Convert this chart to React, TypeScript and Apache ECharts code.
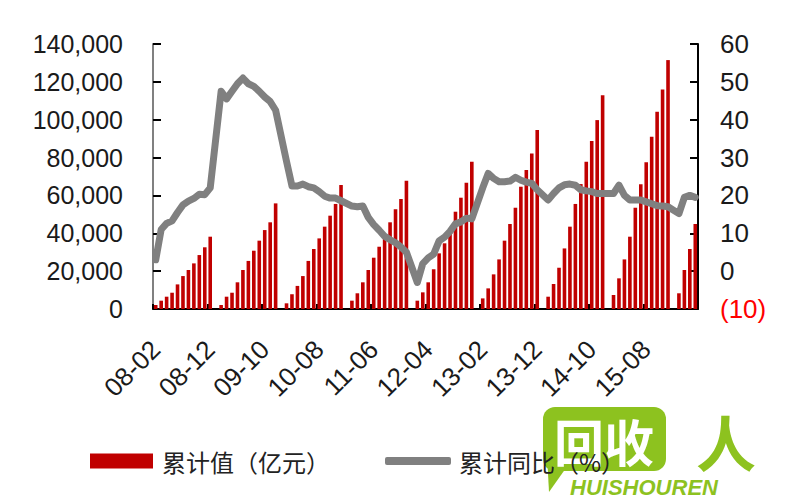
import React, { useEffect, useRef } from "react";
import * as echarts from "echarts";

// Month labels: 08-02 ... 16-05 (January kept as a category with no value)
const YEARS = ["08", "09", "10", "11", "12", "13", "14", "15", "16"];
const MONTHS = ["01", "02", "03", "04", "05", "06", "07", "08", "09", "10", "11", "12"];
const categories = YEARS.flatMap((y) => MONTHS.map((m) => `${y}-${m}`)).slice(1, 101);

// 累计值（亿元）, Feb..Dec of each year
const value2008 = [2100, 4400, 6500, 8600, 13000, 17400, 20600, 24100, 28500, 32600, 38200];
const value2009 = [2100, 6500, 8600, 14100, 20600, 25400, 30800, 36100, 41700, 45800, 55800];
const value2010 = [3000, 7800, 12200, 17400, 25400, 31700, 37300, 43500, 49300, 55500, 65500];
const value2011 = [4400, 8300, 14100, 20600, 27100, 32900, 37300, 45800, 52700, 58100, 67800];
const value2012 = [4400, 8800, 14100, 21000, 29400, 34700, 40800, 51400, 58800, 66700, 77800];
const value2013 = [5600, 10900, 18300, 26200, 36100, 44900, 53500, 64600, 73400, 82200, 94600];
const value2014 = [6500, 13200, 21800, 32000, 43500, 55500, 66000, 77800, 88800, 99800, 112900];
const value2015 = [7400, 16200, 26200, 38200, 53500, 65900, 77500, 91000, 104200, 116000, 131500];
const value2016 = [8300, 20600, 31700, 44900];

// 累计同比（%）, Feb..Dec of each year
const yoy2008 = [3, 11, 12.6, 13.3, 15.5, 17.5, 18.5, 19.2, 20.3, 20.2, 22];
const yoy2009 = [47.5, 45.5, 47.5, 49.5, 51, 49.5, 48.8, 47.5, 46, 44.8, 42.5];
const yoy2010 = [29, 22.5, 22.5, 23, 22.3, 22, 21, 19.8, 19.3, 19.3, 18.6];
const yoy2011 = [17.2, 17, 17.2, 14.2, 12.3, 10.8, 9.2, 8.3, 7.5, 6.4, 5];
const yoy2012 = [-3, 2, 3.5, 4.5, 8, 9, 10.5, 12.5, 13, 14, 13.8];
const yoy2013 = [22, 25.8, 24.5, 23.6, 23.6, 23.8, 24.8, 24, 23.5, 23.2, 21.5];
const yoy2014 = [18.8, 20.5, 22, 22.8, 23, 22.7, 21.5, 21.2, 21, 20.5, 20.5];
const yoy2015 = [20.5, 22.7, 20, 18.8, 18.8, 18.8, 18.3, 17.8, 17.3, 17.2, 17];
const yoy2016 = [15.2, 19.5, 20, 19.5];

const leftTicks = { min: 0, max: 140000, interval: 20000 };
const rightTicks = { min: -10, max: 60, interval: 10 };

const BAR_NAME = "累计值（亿元）";
const LINE_NAME = "累计同比（%）";

function joinYears(parts: number[][]): (number | null)[] {
  const out: (number | null)[] = [];
  parts.forEach((arr, i) => {
    if (i > 0) out.push(null); // January
    out.push(...arr);
  });
  return out;
}

const barData = joinYears([value2008, value2009, value2010, value2011, value2012, value2013, value2014, value2015, value2016]);
const lineData = joinYears([yoy2008, yoy2009, yoy2010, yoy2011, yoy2012, yoy2013, yoy2014, yoy2015, yoy2016]);

const NUM_FONT = "'Liberation Sans', Arial, sans-serif";
const CJK_FONT = "'Noto Sans CJK SC', sans-serif";
const GREEN = "#8DC21F";
const GREY = "#808080";

export default function App() {
  const ref = useRef<HTMLDivElement>(null);
  useEffect(() => {
    if (!ref.current) return;
    const chart = echarts.init(ref.current, null, { renderer: "svg" });
    chart.setOption({
      animation: false,
      backgroundColor: "#ffffff",
      grid: { left: 153, right: 102, top: 44, bottom: 191, containLabel: false },
      legend: [
        {
          left: 90,
          top: 449,
          padding: 0,
          itemWidth: 63,
          itemHeight: 15,
          data: [{ name: BAR_NAME, icon: "rect" }],
          textStyle: { fontSize: 24, fontFamily: CJK_FONT, color: "#222", padding: [0, 0, 0, 4] },
        },
        {
          left: 385,
          top: 449,
          padding: 0,
          itemWidth: 66,
          itemHeight: 8,
          data: [{ name: LINE_NAME, icon: "roundRect", itemStyle: { color: GREY } }],
          textStyle: { fontSize: 24, fontFamily: CJK_FONT, color: "#222", padding: [0, 0, 0, 3] },
        },
      ],
      xAxis: {
        type: "category",
        data: categories,
        boundaryGap: true,
        axisLine: { show: true, lineStyle: { color: "#000", width: 2 } },
        axisTick: { show: true, inside: true, length: 5, interval: 9, lineStyle: { color: "#000", width: 2 } },
        axisLabel: {
          interval: 9,
          rotate: 45,
          fontSize: 26,
          fontFamily: NUM_FONT,
          color: "#1a1a1a",
          margin: 36,
        },
        splitLine: { show: false },
      },
      yAxis: [
        {
          type: "value",
          position: "left",
          ...leftTicks,
          axisLine: { show: true, lineStyle: { color: GREY, width: 2 } },
          axisTick: { show: true, inside: true, length: 8, lineStyle: { color: "#000", width: 2 } },
          axisLabel: {
            fontSize: 25,
            fontFamily: NUM_FONT,
            color: "#1a1a1a",
            margin: 30,
            formatter: (v: number) => v.toLocaleString("en-US"),
          },
          splitLine: { show: false },
        },
        {
          type: "value",
          position: "right",
          ...rightTicks,
          axisLine: { show: true, lineStyle: { color: "#000", width: 2 } },
          axisTick: { show: true, inside: true, length: 8, lineStyle: { color: "#000", width: 2 } },
          axisLabel: {
            fontSize: 26,
            fontFamily: NUM_FONT,
            color: "#1a1a1a",
            margin: 22,
            formatter: (v: number) => (v < 0 ? `{neg|(${-v})}` : `${v}`),
            rich: { neg: { color: "#FF0000", fontSize: 26, fontFamily: NUM_FONT } },
          },
          splitLine: { show: false },
        },
      ],
      series: [
        {
          name: BAR_NAME,
          type: "bar",
          yAxisIndex: 0,
          data: barData,
          barWidth: 3.6,
          itemStyle: { color: "#C00000" },
        },
        {
          name: LINE_NAME,
          type: "line",
          yAxisIndex: 1,
          data: lineData,
          connectNulls: true,
          symbol: "none",
          z: 5,
          lineStyle: { color: GREY, width: 7, join: "round", cap: "round" },
          itemStyle: { color: GREY },
        },
      ],
      graphic: [
        {
          type: "group",
          z: 100,
          children: [
            { type: "rect", shape: { x: 543, y: 407, width: 123, height: 64, r: 12 }, style: { fill: GREEN } },
            { type: "polygon", shape: { points: [[547, 455], [566, 468], [549, 492]] }, style: { fill: GREEN } },
            {
              type: "text",
              x: 604,
              y: 440,
              style: {
                text: "回收",
                fill: "#fff",
                font: `bold 50px ${CJK_FONT}`,
                align: "center",
                verticalAlign: "middle",
              },
            },
            {
              type: "text",
              x: 726,
              y: 440,
              style: {
                text: "人",
                fill: GREEN,
                font: `bold 60px ${CJK_FONT}`,
                align: "center",
                verticalAlign: "middle",
              },
            },
            {
              type: "text",
              x: 644,
              y: 487,
              style: {
                text: "HUISHOUREN",
                fill: GREEN,
                font: `italic bold 22px ${NUM_FONT}`,
                align: "center",
                verticalAlign: "middle",
              },
            },
          ],
        },
      ],
    });
    return () => chart.dispose();
  }, []);
  return (
    <div
      ref={ref}
      style={{ position: "fixed", left: 0, top: 0, width: 800, height: 500, background: "#fff" }}
    />
  );
}
